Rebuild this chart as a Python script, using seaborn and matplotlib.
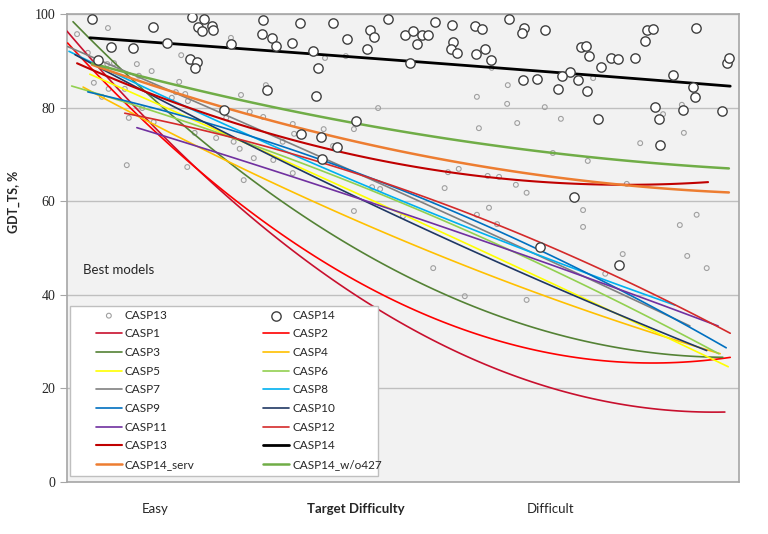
import numpy as np
import matplotlib
matplotlib.use('Agg')
import matplotlib.pyplot as plt
from matplotlib.patches import Rectangle
import seaborn as sns

# CASP13 / CASP14 best-model scores (x = target difficulty, 0 easy .. 100 difficult)
casp13_x = [1.5, 6.1, 3.1, 6.0, 7.0, 10.4, 12.6, 10.7, 4.0, 6.2, 8.6, 5.2, 17.0, 16.7, 16.2,
            17.6, 15.6, 18.0, 24.4, 25.9, 29.6, 27.2, 29.2, 23.7, 33.6, 33.8, 32.1, 27.8, 30.7,
            33.6, 26.3, 17.9, 8.9, 9.2, 11.2, 12.9, 19.0, 22.2, 24.8, 25.7, 38.2, 39.6, 42.7,
            46.3, 45.4, 46.6, 42.7, 50.0, 38.4, 41.5, 61.0, 61.3, 65.5, 65.6, 63.2, 67.0, 71.1,
            73.5, 72.3, 77.5, 56.7, 58.3, 62.6, 64.3, 66.8, 68.4, 56.2, 76.8, 76.8, 62.8, 61.0,
            64.0, 82.7, 80.1, 54.5, 59.2, 68.4, 91.2, 93.7, 92.3, 95.2, 78.3, 83.3, 85.3, 88.7,
            91.5, 91.8]
casp13_y = [95.7, 97.0, 91.7, 89.3, 89.5, 89.3, 87.8, 86.8, 85.3, 84.0, 84.0, 82.3, 91.2, 85.5,
            83.3, 82.9, 82.1, 81.4, 94.9, 82.7, 84.8, 79.1, 78.0, 77.8, 76.5, 74.4, 72.7, 69.2,
            68.8, 66.0, 64.5, 67.3, 67.7, 77.8, 79.9, 76.9, 74.6, 73.5, 72.7, 71.2, 75.4, 71.8,
            75.4, 79.9, 63.0, 62.6, 57.9, 56.8, 90.6, 91.0, 82.3, 75.6, 80.8, 84.8, 88.5, 76.7,
            80.1, 77.6, 70.3, 68.6, 66.2, 66.9, 65.4, 65.2, 63.5, 61.8, 62.8, 58.1, 54.5, 58.6,
            57.1, 55.1, 48.7, 44.5, 45.7, 39.7, 38.9, 54.9, 57.1, 48.3, 45.7, 86.3, 63.7, 72.4,
            78.6, 80.6, 74.6]

casp14_x = [3.7, 12.8, 6.5, 9.8, 14.9, 4.6, 18.6, 20.4, 19.5, 20.1, 21.6, 21.7, 18.3, 19.3, 19.0,
            29.2, 34.7, 29.0, 30.5, 31.1, 33.5, 24.4, 36.6, 37.3, 29.8, 37.1, 23.4, 34.8, 37.8,
            39.6, 47.8, 45.1, 45.7, 41.7, 44.6, 50.3, 51.5, 52.1, 52.8, 53.7, 54.8, 57.3, 57.4,
            57.1, 58.0, 60.7, 61.8, 60.9, 62.2, 63.1, 65.8, 68.0, 67.7, 71.1, 67.9, 69.9, 73.1,
            51.0, 43.0, 40.2, 37.9, 70.4, 82.1, 75.4, 79.0, 86.3, 87.2, 93.6, 86.0, 76.5, 77.2,
            77.7, 80.9, 82.0, 84.5, 79.5, 74.8, 73.7, 76.0, 77.4, 90.2, 93.1, 93.4, 98.2, 98.5,
            87.5, 91.7, 97.5, 88.1, 88.2]
casp14_y = [98.9, 97.2, 93.0, 92.7, 93.8, 90.2, 99.4, 98.9, 97.2, 96.4, 97.4, 96.6, 90.4, 89.8,
            88.5, 98.7, 98.1, 95.7, 94.9, 93.2, 93.8, 93.6, 92.1, 88.5, 83.8, 82.5, 79.5, 74.4,
            73.7, 98.1, 98.9, 96.6, 95.1, 94.7, 92.5, 95.5, 96.4, 93.6, 95.5, 95.5, 98.3, 97.7,
            94.0, 92.5, 91.7, 97.4, 96.8, 91.5, 92.5, 90.2, 98.9, 97.0, 95.9, 96.6, 85.9, 86.1,
            84.0, 89.5, 77.1, 71.6, 69.0, 50.2, 46.4, 60.9, 77.6, 96.6, 96.8, 97.0, 94.2, 93.0,
            93.2, 91.0, 90.6, 90.4, 90.6, 88.7, 87.6, 86.8, 85.9, 83.6, 87.0, 84.4, 82.3, 89.5,
            90.6, 80.1, 79.5, 79.3, 77.6, 72.0]

# points
casp1_x = [0.0, 16.8, 24.6, 49.6, 74.4, 97.9]
casp1_y = [96.6, 69.9, 60.3, 33.8, 19.7, 14.7]
casp2_x = [0.1, 16.8, 24.6, 49.6, 74.4, 87.2, 98.7]
casp2_y = [93.8, 70.5, 60.3, 37.8, 27.6, 25.2, 26.5]
casp3_x = [0.9, 16.8, 31.4, 45.5, 58.5, 74.4, 97.6]
casp3_y = [98.1, 77.4, 60.3, 47.9, 38.5, 31.0, 26.7]
casp4_x = [2.4, 16.8, 34.7, 49.6, 74.4, 97.2]
casp4_y = [84.4, 73.7, 61.3, 51.1, 38.9, 27.1]
casp5_x = [3.4, 16.8, 54.0, 74.4, 98.4]
casp5_y = [87.0, 78.9, 54.3, 41.1, 24.6]
casp6_x = [0.7, 16.8, 54.0, 97.0]
casp6_y = [84.6, 77.4, 57.1, 27.4]
casp7_x = [0.1, 16.8, 49.6, 64.4, 92.7]
casp7_y = [93.4, 82.3, 60.7, 53.8, 32.9]
casp8_x = [0.3, 16.8, 49.6, 74.4, 90.5]
casp8_y = [92.3, 80.6, 59.2, 48.1, 36.8]
casp9_x = [3.1, 16.8, 49.6, 70.4, 98.1]
casp9_y = [83.8, 77.8, 62.2, 50.2, 28.4]
casp10_x = [1.2, 15.3, 49.6, 74.4, 95.2]
casp10_y = [91.7, 80.1, 56.4, 41.0, 27.8]
casp11_x = [10.4, 16.8, 37.6, 54.0, 74.4, 96.9]
casp11_y = [75.9, 72.6, 63.5, 55.3, 45.3, 33.3]
casp12_x = [8.6, 16.8, 49.6, 72.9, 98.7]
casp12_y = [78.8, 76.3, 62.8, 49.6, 31.8]
casp13_tx = [1.5, 16.8, 37.6, 54.0, 79.3, 95.4]
casp13_ty = [89.5, 80.6, 71.6, 66.9, 63.5, 64.1]
casp14_tx = [3.4, 34.7, 73.4, 98.7]
casp14_ty = [94.9, 91.7, 87.4, 84.6]
serv_x = [3.7, 16.8, 37.6, 54.0, 79.3, 98.5]
serv_y = [89.3, 82.7, 74.6, 69.4, 64.1, 61.8]
wo427_x = [3.7, 16.8, 37.6, 54.0, 79.3, 98.5]
wo427_y = [89.5, 84.6, 78.0, 73.9, 69.4, 66.9]

curves = [
    ('CASP1', casp1_x, casp1_y, '#C8102E', 1.2),
    ('CASP2', casp2_x, casp2_y, '#FF0000', 1.2),
    ('CASP3', casp3_x, casp3_y, '#548235', 1.2),
    ('CASP4', casp4_x, casp4_y, '#FFC000', 1.2),
    ('CASP5', casp5_x, casp5_y, '#FFFF00', 1.2),
    ('CASP6', casp6_x, casp6_y, '#92D050', 1.2),
    ('CASP7', casp7_x, casp7_y, '#808080', 1.2),
    ('CASP8', casp8_x, casp8_y, '#00B0F0', 1.2),
    ('CASP9', casp9_x, casp9_y, '#0070C0', 1.2),
    ('CASP10', casp10_x, casp10_y, '#203864', 1.2),
    ('CASP11', casp11_x, casp11_y, '#7030A0', 1.2),
    ('CASP12', casp12_x, casp12_y, '#D42A2A', 1.2),
    ('CASP13', casp13_tx, casp13_ty, '#C00000', 1.5),
    ('CASP14', casp14_tx, casp14_ty, '#000000', 2.0),
    ('CASP14_serv', serv_x, serv_y, '#ED7D31', 1.8),
    ('CASP14_w/o427', wo427_x, wo427_y, '#70AD47', 1.8),
]

sns.set_style('white', {'axes.facecolor': '#F2F2F2'})
plt.rcParams['font.family'] = ['Lato', 'DejaVu Sans']

fig = plt.figure(figsize=(7.68, 5.34), dpi=100)
ax = fig.add_axes([0.0872, 0.0974, 0.875, 0.8764])

handles = []
labels = []
sns.scatterplot(x=casp13_x, y=casp13_y, s=12, fc='none', ec='#A0A0A0', linewidth=0.8,
                ax=ax, zorder=2)
handles.append(ax.collections[-1])
labels.append('CASP13')
sns.scatterplot(x=casp14_x, y=casp14_y, s=45, fc='white', ec='#404040', linewidth=1.0,
                ax=ax, zorder=4)
handles.append(ax.collections[-1])
labels.append('CASP14')

for name, xs, ys, color, lw in curves:
    sns.regplot(x=xs, y=ys, order=2, ci=None, scatter=False, truncate=True, ax=ax,
                line_kws={'color': color, 'lw': lw, 'zorder': 3})
    handles.append(ax.lines[-1])
    labels.append(name)

ax.set_xlim(0, 100)
ax.set_ylim(0, 100)
ax.set_yticks([0, 20, 40, 60, 80, 100])
ax.yaxis.grid(True, color='#BFBFBF', lw=1)
ax.set_axisbelow(True)
for sp in ax.spines.values():
    sp.set_color('#A6A6A6')
    sp.set_linewidth(1.2)
ax.tick_params(axis='y', direction='out', length=5, color='#A6A6A6', labelsize=10, left=True)
for lab in ax.get_yticklabels():
    lab.set_family('Liberation Serif')

ax.set_xticks([13.1, 71.9])
ax.set_xticklabels(['Easy', 'Difficult'])
ax.tick_params(axis='x', length=0, pad=15, labelsize=9.5)

ax.set_xlabel('Target Difficulty', fontsize=9.5, fontweight='bold')
ax.xaxis.set_label_coords(0.43, -0.058)
ax.xaxis.label.set_va('center')
ax.set_ylabel('GDT_TS, %', fontsize=9, fontweight='bold')
ax.yaxis.set_label_coords(-0.079, 0.598)
ax.yaxis.label.set_va('center')

ax.text(2.4, 45.3, 'Best models', va='center', fontsize=9.5)

# legend box drawn separately, entries laid out inside it
box = Rectangle((0.0045, 0.0128), 0.458, 0.3632, transform=ax.transAxes, fc='white',
                ec='#BFBFBF', lw=1.0, zorder=5)
ax.add_patch(box)

# legend filled column by column: left column odd rows, right column even rows
left = [0, 2, 4, 6, 8, 10, 12, 14, 16]
right = [1, 3, 5, 7, 9, 11, 13, 15, 17]
order = left + right
leg = ax.legend([handles[i] for i in order], [labels[i] for i in order], ncol=2,
                loc='upper left', bbox_to_anchor=(0.043, 0.368), fontsize=8.5,
                frameon=False, borderaxespad=0, borderpad=0,
                handlelength=2.2, handletextpad=0.25, labelspacing=0.65, columnspacing=5.8)
leg.set_zorder(6)

fig.savefig('out.png', dpi=100)
